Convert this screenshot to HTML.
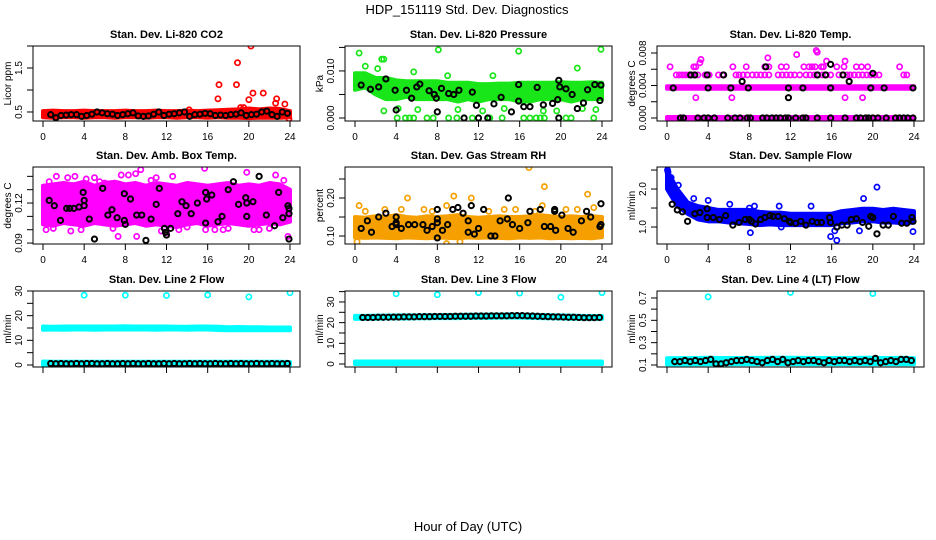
<!DOCTYPE html>
<html><head><meta charset="utf-8">
<style>
html,body{margin:0;padding:0;background:#fff;}
svg{display:block;font-family:"Liberation Sans",Arial,sans-serif;}
</style></head>
<body>
<svg id="fig" width="936" height="540" viewBox="0 0 936 540" xmlns="http://www.w3.org/2000/svg">
<text x="467" y="14" text-anchor="middle" font-size="13">HDP_151119  Std. Dev. Diagnostics</text>
<text x="468" y="531" text-anchor="middle" font-size="13">Hour of Day (UTC)</text>
</svg>
<script>
// ---------- data ----------
const HOURS=[0,1,2,3,4,5,6,7,8,9,10,11,12,13,14,15,16,17,18,19,20,21,22,23,24];
const HALF=[0.75,1.25,1.75,2.25,2.75,3.25,3.75,4.25,4.75,5.25,5.75,6.25,6.75,7.25,7.75,8.25,8.75,9.25,9.75,10.25,10.75,11.25,11.75,12.25,12.75,13.25,13.75,14.25,14.75,15.25,15.75,16.25,16.75,17.25,17.75,18.25,18.75,19.25,19.75,20.25,20.75,21.25,21.75,22.25,22.75,23.25,23.75];
const X_TICKS=[0,4,8,12,16,20,24];

// P1 CO2
const p1Lo=[0.38,0.37,0.38,0.38,0.37,0.38,0.38,0.37,0.38,0.38,0.37,0.38,0.38,0.37,0.38,0.38,0.37,0.38,0.37,0.37,0.36,0.37,0.37,0.37,0.38];
const p1Hi=[0.52,0.53,0.52,0.52,0.53,0.52,0.52,0.52,0.53,0.52,0.52,0.53,0.52,0.52,0.53,0.52,0.53,0.54,0.55,0.56,0.58,0.56,0.58,0.57,0.52];
const p1Px=[17.0,17.1,18.8,18.9,20.0,20.2,20.4,21.4,22.7,22.6,23.5,19.2,19.5,23.9,14.2];
const p1Py=[0.80,1.12,1.12,1.62,0.78,2.0,0.93,0.93,0.80,0.70,0.68,0.60,0.60,0.35,0.55];
const p1By=[0.44,0.37,0.42,0.43,0.44,0.44,0.40,0.42,0.45,0.50,0.48,0.46,0.45,0.42,0.44,0.46,0.48,0.41,0.40,0.41,0.45,0.50,0.42,0.45,0.46,0.48,0.50,0.40,0.44,0.45,0.47,0.46,0.42,0.43,0.42,0.44,0.45,0.48,0.42,0.44,0.45,0.50,0.52,0.44,0.40,0.50,0.47];

// P2 Pressure
const p2Lo=[0.006,0.0065,0.005,0.004,0.004,0.0045,0.004,0.004,0.004,0.004,0.0035,0.004,0.0035,0.004,0.004,0.004,0.0035,0.0035,0.004,0.004,0.004,0.0035,0.004,0.004,0.004];
const p2Hi=[0.0095,0.0095,0.0085,0.0085,0.008,0.0078,0.0078,0.0078,0.0078,0.0075,0.0075,0.0075,0.0072,0.0072,0.0073,0.0073,0.0075,0.0075,0.0075,0.0075,0.0076,0.0075,0.0075,0.0076,0.0075];
const p2Px=[0.4,1.0,2.2,2.6,2.8,5.7,8.1,15.9,21.6,23.9,13.4,9.0,4.1,4.9,5.3,5.7,7.0,7.6,9.1,9.9,10.6,11.4,12.0,12.9,13.1,14.3,16.4,17.0,17.6,18.0,18.4,19.8,20.5,21.0,23.2,2.8,4.2,6.1,10.0,12.4,14.5,18.3,19.6,22.1,23.4];
const p2Py=[0.0138,0.011,0.0105,0.0125,0.0125,0.0098,0.0145,0.0142,0.0106,0.0146,0.009,0.009,0,0,0,0,0,0,0,0,0,0,0,0,0,0,0,0,0,0,0,0,0,0,0,0.0015,0.002,0.0018,0.0018,0.0015,0.002,0.0015,0.0015,0.002,0.0018];
const p2Bx=[0.6,1.5,2.3,3.0,3.9,4.0,5.0,5.5,6.0,6.3,7.2,7.7,7.9,8.0,8.4,9.1,9.6,10.1,10.6,11.4,11.8,12.0,12.9,13.5,14.2,15.2,15.9,15.9,16.4,17.0,17.7,18.3,19.2,19.7,19.8,19.9,19.8,20.5,21.1,21.6,22.2,22.6,23.3,23.8,23.9];
const p2By=[0.0070,0.0061,0.0066,0.0083,0.0059,0.0017,0.0059,0.0042,0.0066,0.0072,0.0058,0.0050,0.0042,0.0013,0.0063,0.0052,0.0050,0.0059,0.0000,0.0055,0.0027,0.0000,0.0000,0.0030,0.0044,0.0013,0.0036,0.0071,0.0024,0.0024,0.0065,0.0028,0.0031,0.0039,0.0000,0.0066,0.0080,0.0062,0.0050,0.0020,0.0032,0.0060,0.0071,0.0037,0.0070];

// P3 Li-820 Temp
const p3ZeroLo=[-0.00012,-0.00012,-0.00012,-0.00012,-0.00012,-0.00012,-0.00012,-0.00012,-0.00012,-0.00012,-0.00012,-0.00012,-0.00012,-0.00012,-0.00012,-0.00012,-0.00012,-0.00012,-0.00012,-0.00012,-0.00012,-0.00012,-0.00012,-0.00012,-0.00012];
const p3ZeroHi=[0.00012,0.00012,0.00012,0.00012,0.00012,0.00012,0.00012,0.00012,0.00012,0.00012,0.00012,0.00012,0.00012,0.00012,0.00012,0.00012,0.00012,0.00012,0.00012,0.00012,0.00012,0.00012,0.00012,0.00012,0.00012];
const p3RowLo=[0.0036,0.0036,0.0036,0.0036,0.0036,0.0036,0.0036,0.0036,0.0036,0.0036,0.0036,0.0036,0.0036,0.0036,0.0036,0.0036,0.0036,0.0036,0.0036,0.0036,0.0036,0.0036,0.0036,0.0036,0.0036];
const p3RowHi=[0.0039,0.0039,0.0039,0.0039,0.0039,0.0039,0.0039,0.0039,0.0039,0.0039,0.0039,0.0039,0.0039,0.0039,0.0039,0.0039,0.0039,0.0039,0.0039,0.0039,0.0039,0.0039,0.0039,0.0039,0.0039];
const p3Px=[0.9,1.2,1.5,1.8,2.1,2.4,2.7,3.0,3.7,4.1,5.0,5.4,6.7,7.0,7.4,7.8,8.3,8.7,9.1,9.5,9.9,10.8,11.2,11.6,12.0,12.4,12.9,13.5,13.9,14.3,14.7,15.1,15.5,15.9,16.7,17.1,17.5,17.8,18.2,18.6,19.0,19.4,19.8,20.2,20.6,23.0,23.3,
 0.3,2.6,2.8,6.4,7.7,9.5,9.9,11.1,11.6,13.3,13.8,14.1,14.4,15.0,15.2,16.5,17.2,18.4,18.9,19.5,22.6,
 3.2,3.3,9.8,12.6,14.5,14.6,15.5,17.3,2.8,6.3,17.3,19.0];
const p3Py=[0.0053,0.0053,0.0053,0.0053,0.0053,0.0053,0.0053,0.0053,0.0053,0.0053,0.0053,0.0053,0.0053,0.0053,0.0053,0.0053,0.0053,0.0053,0.0053,0.0053,0.0053,0.0053,0.0053,0.0053,0.0053,0.0053,0.0053,0.0053,0.0053,0.0053,0.0053,0.0053,0.0053,0.0053,0.0053,0.0053,0.0053,0.0053,0.0053,0.0053,0.0053,0.0053,0.0053,0.0053,0.0053,0.0053,0.0053,
 0.0063,0.0063,0.0063,0.0063,0.0063,0.0063,0.0063,0.0063,0.0063,0.0063,0.0063,0.0063,0.0063,0.0063,0.0063,0.0063,0.0063,0.0063,0.0063,0.0063,0.0063,
 0.0068,0.0072,0.0074,0.0078,0.0083,0.0081,0.0070,0.0070,0.0025,0.0025,0.0025,0.0025];
const p3Bx=[0.6,2.3,2.7,3.9,4.0,5.5,6.2,7.3,7.9,9.6,11.8,11.8,13.2,14.6,15.4,15.9,15.9,17.1,17.7,19.8,20.0,21.1,23.9,1.3,1.6,3.0,3.6,4.0,4.6,5.9,6.6,7.1,7.8,8.1,9.3,9.7,10.2,10.6,11.0,11.5,11.8,12.5,13.2,13.5,14.6,15.9,17.3,18.4,18.8,19.3,19.6,20.0,20.5,21.3,22.2,22.6,23.0,23.4,23.9];
const p3By=[0.0037,0.0053,0.0053,0.0053,0.0037,0.0053,0.0037,0.0045,0.0037,0.0063,0.0025,0.0037,0.0037,0.0053,0.0053,0.0066,0.0037,0.0053,0.0045,0.0037,0.0055,0.0037,0.0037,0,0,0,0,0,0,0,0,0,0,0,0,0,0,0,0,0,0,0,0,0,0,0,0,0,0,0,0,0,0,0,0,0,0,0,0];

// P4 Amb Box Temp
const p4Lo=[0.104,0.103,0.105,0.104,0.103,0.105,0.104,0.103,0.104,0.105,0.103,0.104,0.103,0.102,0.104,0.105,0.103,0.104,0.105,0.104,0.103,0.104,0.105,0.104,0.106];
const p4Hi=[0.133,0.134,0.135,0.134,0.136,0.133,0.135,0.136,0.134,0.135,0.133,0.135,0.134,0.133,0.135,0.134,0.133,0.134,0.135,0.133,0.134,0.133,0.135,0.134,0.130];
const p4Px=[0.6,1.3,2.4,3.1,3.7,4.2,5.0,5.5,6.0,7.3,7.6,8.3,9.0,9.1,9.5,10.5,11.0,12.6,13.2,14.0,15.7,15.8,16.7,17.5,19.8,21.0,22.6,23.4,23.8,2.7,12.0,0.3,1.0,6.8,11.5,18.0,20.5,22.0];
const p4Py=[0.136,0.140,0.139,0.140,0.100,0.138,0.139,0.136,0.135,0.095,0.141,0.141,0.142,0.095,0.145,0.137,0.139,0.140,0.100,0.102,0.146,0.100,0.100,0.100,0.143,0.100,0.141,0.137,0.095,0.099,0.098,0.100,0.101,0.101,0.099,0.101,0.100,0.101];
const p4Bx=[0.6,1.1,1.7,2.3,2.6,3.0,3.5,3.9,4.0,4.0,4.5,5.0,5.8,6.3,6.7,7.2,7.9,7.9,8.0,8.5,9.1,9.6,10.0,10.5,11.0,11.3,11.8,11.9,12.0,12.4,13.1,13.5,13.9,14.4,15.0,15.8,15.8,15.9,16.4,17.0,17.4,18.0,18.5,19.0,19.7,19.8,19.8,20.4,21.0,21.7,22.5,22.9,23.3,23.8,23.9,23.9,23.9];
const p4By=[0.122,0.118,0.107,0.116,0.116,0.116,0.117,0.128,0.122,0.118,0.108,0.093,0.131,0.111,0.115,0.109,0.127,0.107,0.104,0.123,0.111,0.111,0.092,0.108,0.119,0.131,0.101,0.098,0.096,0.101,0.112,0.121,0.118,0.112,0.120,0.128,0.105,0.123,0.126,0.106,0.110,0.130,0.136,0.119,0.124,0.120,0.110,0.121,0.140,0.111,0.103,0.128,0.109,0.118,0.112,0.093,0.116];

// P5 Gas Stream RH
const p5Lo=[0.096,0.095,0.096,0.095,0.094,0.096,0.095,0.094,0.096,0.095,0.094,0.096,0.095,0.096,0.095,0.094,0.096,0.095,0.096,0.094,0.095,0.094,0.095,0.094,0.097];
const p5Hi=[0.150,0.148,0.152,0.150,0.155,0.150,0.148,0.152,0.150,0.152,0.155,0.150,0.148,0.150,0.152,0.150,0.150,0.152,0.155,0.152,0.150,0.152,0.150,0.152,0.150];
const p5Px=[0.4,0.2,2.9,4.5,5.1,6.7,8.9,9.6,11.3,14.5,15.6,16.9,18.4,18.2,20.5,21.6,22.6,8.9,10.2,1.0,7.5,13.0,17.5,23.2];
const p5Py=[0.18,0.085,0.17,0.17,0.20,0.17,0.18,0.205,0.20,0.17,0.17,0.28,0.23,0.18,0.17,0.17,0.21,0.08,0.085,0.165,0.165,0.165,0.165,0.175];
const p5Bx=[0.6,1.2,1.6,2.3,3.0,3.6,4.0,4.0,4.0,4.5,5.2,5.8,6.6,7.0,7.5,8.0,8.0,8.0,8.0,8.5,9.0,9.5,10.0,10.5,11.0,11.3,11.6,11.0,12.0,12.5,13.2,13.6,14.1,14.8,14.9,15.3,16.0,16.8,17.0,18.0,18.4,19.0,19.4,19.4,19.5,20.1,20.7,21.2,22.0,22.5,22.9,23.8,23.9,23.9];
const p5By=[0.12,0.14,0.11,0.15,0.16,0.125,0.15,0.135,0.13,0.12,0.13,0.13,0.13,0.115,0.125,0.135,0.145,0.17,0.095,0.115,0.13,0.17,0.175,0.16,0.14,0.18,0.105,0.11,0.12,0.17,0.10,0.10,0.14,0.145,0.20,0.13,0.12,0.135,0.165,0.17,0.125,0.125,0.17,0.165,0.115,0.155,0.12,0.11,0.14,0.165,0.15,0.125,0.185,0.13];

// P6 Sample Flow
const p6Lo=[2.0,1.55,1.35,1.2,1.15,1.15,1.12,1.1,1.08,1.05,1.07,1.05,1.05,1.05,1.05,1.05,1.05,1.1,1.12,1.15,1.15,1.12,1.12,1.1,1.12];
const p6Hi=[2.5,2.0,1.65,1.55,1.5,1.45,1.45,1.45,1.45,1.4,1.38,1.38,1.35,1.35,1.35,1.35,1.35,1.42,1.45,1.48,1.48,1.45,1.48,1.45,1.42];
const p6Px=[0.05,0.1,1.1,2.6,4.0,8.1,8.5,10.9,11.1,14.0,15.9,16.3,16.5,18.7,19.1,20.4,23.9,6.1,8.0,0.4,0.7];
const p6Py=[2.5,2.45,2.1,1.75,1.7,0.85,1.55,1.55,1.0,1.55,0.75,0.9,0.65,0.9,1.75,2.05,0.88,1.6,1.5,2.3,1.8];
const p6Bx=[0.5,1.0,1.5,2.0,2.7,3.2,3.9,3.9,4.5,5.1,5.7,6.4,7.0,7.6,8.0,8.2,8.6,9.1,9.5,10.0,10.3,10.8,11.4,11.9,12.0,12.5,13.0,13.5,14.1,14.6,15.0,15.8,15.9,16.5,17.0,17.5,17.9,18.4,19.0,19.6,19.8,20.0,20.4,21.0,21.5,22.0,22.8,23.3,23.8,23.9];
const p6By=[1.6,1.45,1.4,1.15,1.35,1.38,1.48,1.25,1.25,1.2,1.3,1.05,1.12,1.2,1.2,1.15,1.08,1.2,1.25,1.3,1.28,1.28,1.22,1.15,1.12,1.1,1.15,1.05,1.15,1.12,1.12,1.25,1.12,1.0,1.05,1.05,1.2,1.22,1.12,1.02,1.28,1.25,0.82,1.05,1.05,1.28,1.1,1.1,1.25,1.15];

// P7 Line 2 Flow
const p7HiLo=[14.3,14.4,14.3,14.4,14.4,14.3,14.4,14.4,14.4,14.4,14.4,14.3,14.4,14.4,14.3,14.4,14.4,14.2,14.1,14.1,14.1,14.1,14.1,14.1,14.1];
const p7HiHi=[15.6,15.5,15.6,15.6,15.6,15.6,15.6,15.6,15.7,15.6,15.6,15.6,15.6,15.5,15.5,15.6,15.6,15.5,15.3,15.4,15.3,15.3,15.2,15.2,15.2];
const p7LowLo=[0,0,0,0,0,0,0,0,0,0,0,0,0,0,0,0,0,0,0,0,0,0,0,0,0];
const p7LowHi=[1.4,1.3,1.3,1.3,1.3,1.3,1.3,1.3,1.3,1.3,1.3,1.3,1.3,1.3,1.3,1.3,1.3,1.3,1.3,1.3,1.3,1.3,1.3,1.3,1.2];
const p7Px=[4,8,12,16,20,24];
const p7Py=[28.3,28.3,28.2,28.4,27.6,29.3];
const p7By=[0.6,0.5,0.6,0.5,0.5,0.6,0.5,0.6,0.6,0.5,0.5,0.6,0.5,0.5,0.6,0.5,0.6,0.5,0.5,0.6,0.5,0.5,0.6,0.5,0.6,0.5,0.5,0.6,0.5,0.6,0.5,0.5,0.6,0.5,0.5,0.6,0.5,0.6,0.5,0.5,0.6,0.5,0.5,0.6,0.5,0.5,0.6];

// P8 Line 3 Flow
const p8HiLo=[21.8,21.9,21.9,22.0,22.0,22.0,22.1,22.1,22.2,22.2,22.2,22.3,22.3,22.3,22.4,22.4,22.4,22.3,22.2,22.1,22.0,21.9,21.9,21.8,21.8];
const p8HiHi=[23.3,23.3,23.4,23.4,23.5,23.5,23.5,23.6,23.6,23.7,23.7,23.8,23.8,23.9,23.9,24.0,23.9,23.8,23.7,23.6,23.5,23.4,23.3,23.2,23.2];
const p8LowLo=[0,0,0,0,0,0,0,0,0,0,0,0,0,0,0,0,0,0,0,0,0,0,0,0,0];
const p8LowHi=[1.2,1.2,1.2,1.2,1.2,1.2,1.2,1.2,1.2,1.2,1.2,1.2,1.2,1.2,1.2,1.2,1.2,1.2,1.2,1.2,1.2,1.2,1.2,1.2,1.2];
const p8Px=[4,8,12,16,20,24];
const p8Py=[34.0,33.5,34.5,34.3,32.3,34.5];
const p8By=[22.5,22.5,22.5,22.6,22.6,22.6,22.7,22.7,22.8,22.8,22.8,22.9,22.9,22.9,23.0,23.0,23.0,23.0,23.1,23.1,23.1,23.1,23.2,23.2,23.2,23.3,23.3,23.3,23.3,23.4,23.4,23.4,23.3,23.2,23.1,23.0,22.9,22.8,22.8,22.7,22.6,22.6,22.5,22.4,22.4,22.4,22.5];

// P9 Line 4 (LT) Flow
const p9Lo=[0.105,0.106,0.106,0.107,0.107,0.107,0.107,0.108,0.108,0.108,0.108,0.108,0.108,0.108,0.108,0.108,0.108,0.108,0.108,0.108,0.108,0.108,0.108,0.108,0.108];
const p9Hi=[0.160,0.162,0.162,0.163,0.165,0.163,0.163,0.163,0.163,0.164,0.165,0.165,0.165,0.164,0.163,0.163,0.163,0.163,0.163,0.165,0.165,0.163,0.163,0.165,0.160];
const p9Px=[4,12,20];
const p9Py=[0.71,0.75,0.74];
const p9By=[0.13,0.13,0.14,0.13,0.14,0.13,0.14,0.15,0.11,0.11,0.12,0.13,0.14,0.14,0.15,0.14,0.13,0.12,0.14,0.15,0.13,0.15,0.12,0.13,0.14,0.13,0.14,0.14,0.13,0.12,0.14,0.13,0.14,0.14,0.13,0.14,0.13,0.14,0.13,0.16,0.12,0.13,0.14,0.13,0.15,0.15,0.14];

// ---------- rendering ----------
const NS='http://www.w3.org/2000/svg';
const svg=document.getElementById('fig');
const COL_LEFT=[33,345,657];
const ROW_TOP=[46,167,291], ROW_BOT=[121,244,367];

function mk(tag,attrs,parent){const e=document.createElementNS(NS,tag);for(const k in attrs)e.setAttribute(k,attrs[k]);(parent||svg).appendChild(e);return e;}

function panel(cfg){
  const c=cfg.col,r=cfg.row;
  const L=COL_LEFT[c],R=L+267,T=ROW_TOP[r],B=ROW_BOT[r];
  const x0=L+10,x1=L+257;
  const sx=h=>x0+(h/24)*(x1-x0);
  const sy=v=>B-(v-cfg.ymin)/(cfg.ymax-cfg.ymin)*(B-T);
  const g=mk('g',{});
  
  
  const clipId='clip'+c+r;
  const cp=mk('clipPath',{id:clipId},g);mk('rect',{x:L,y:T,width:R-L,height:B-T},cp);
  const plot=mk('g',{'clip-path':'url(#'+clipId+')'},g);
  cfg.bands.forEach((bd,i)=>{
    let pts=[];
    HOURS.forEach((h,k)=>pts.push(sx(h)+','+sy(bd[1][k])));
    for(let k=HOURS.length-1;k>=0;k--)pts.push(sx(HOURS[k])+','+sy(bd[0][k]));
    const p=mk('polygon',{points:pts.join(' '),fill:cfg.color,stroke:cfg.color,'stroke-width':4,'stroke-linejoin':'round'},plot);
    
    
  });
  cfg.px.forEach((h,i)=>{
    const e=mk('circle',{cx:sx(h),cy:sy(cfg.py[i]),r:2.6,fill:'none',stroke:cfg.color,'stroke-width':1.7},plot);
    
    
  });
  cfg.bx.forEach((h,i)=>{
    const e=mk('circle',{cx:sx(h),cy:sy(cfg.by[i]),r:2.6,fill:'none',stroke:'#000','stroke-width':2},plot);
    
    
  });
  const box=mk('rect',{x:L,y:T,width:R-L,height:B-T,fill:'none',stroke:'#000','stroke-width':1},g);
  
  
  const t=mk('text',{x:(L+R)/2,y:T-8,'text-anchor':'middle','font-size':11,'font-weight':'bold'},g);
  t.textContent=cfg.title;
  
  
  X_TICKS.forEach(v=>{
    mk('line',{x1:sx(v),x2:sx(v),y1:B,y2:B+6,stroke:'#000'},g);
    if(r<2){const tl=mk('text',{x:sx(v),y:B+19,'text-anchor':'middle','font-size':10},g);tl.textContent=v;
      
      }
  });
  cfg.yticks.forEach(v=>{
    mk('line',{x1:L,x2:L-6,y1:sy(v),y2:sy(v),stroke:'#000'},g);
  });
  cfg.ylabels.forEach(s=>{
    const v=parseFloat(s);const y=sy(v);
    const tl=mk('text',{x:0,y:0,transform:'translate('+(L-11)+','+y+') rotate(-90)','text-anchor':'middle','font-size':10},g);
    tl.textContent=s;
    
    
  });
  const yl=mk('text',{x:0,y:0,transform:'translate('+(L-22)+','+((T+B)/2)+') rotate(-90)','text-anchor':'middle','font-size':10},g);
  yl.textContent=cfg.ylab;
  
  
}

panel({name:'co2',col:0,row:0,title:'Stan. Dev. Li-820 CO2',ylab:'Licor ppm',color:'#ff0000',ymin:0.295,ymax:2.0,yticks:[0.5,1.0,1.5,2.0],ylabels:['0.5','1.5'],bands:[[p1Lo,p1Hi]],px:p1Px,py:p1Py,bx:HALF,by:p1By});
panel({name:'pressure',col:1,row:0,title:'Stan. Dev. Li-820 Pressure',ylab:'kPa',color:'#19e619',ymin:-0.00064,ymax:0.0153,yticks:[0,0.005,0.010,0.015],ylabels:['0.000','0.010'],bands:[[p2Lo,p2Hi]],px:p2Px,py:p2Py,bx:p2Bx,by:p2By});
panel({name:'li820-temp',col:2,row:0,title:'Stan. Dev. Li-820 Temp.',ylab:'degrees C',color:'#ff00ff',ymin:-0.00037,ymax:0.00886,yticks:[0,0.002,0.004,0.006,0.008],ylabels:['0.000','0.004','0.008'],bands:[[p3ZeroLo,p3ZeroHi],[p3RowLo,p3RowHi]],px:p3Px,py:p3Py,bx:p3Bx,by:p3By});
panel({name:'amb-box-temp',col:0,row:1,title:'Stan. Dev. Amb. Box Temp.',ylab:'degrees C',color:'#ff00ff',ymin:0.0893,ymax:0.147,yticks:[0.09,0.10,0.11,0.12,0.13,0.14],ylabels:['0.09','0.12'],bands:[[p4Lo,p4Hi]],px:p4Px,py:p4Py,bx:p4Bx,by:p4By});
panel({name:'gas-stream-rh',col:1,row:1,title:'Stan. Dev. Gas Stream RH',ylab:'percent',color:'#f5a000',ymin:0.079,ymax:0.2816,yticks:[0.10,0.15,0.20,0.25],ylabels:['0.10','0.20'],bands:[[p5Lo,p5Hi]],px:p5Px,py:p5Py,bx:p5Bx,by:p5By});
panel({name:'sample-flow',col:2,row:1,title:'Stan. Dev. Sample Flow',ylab:'ml/min',color:'#0000ff',ymin:0.553,ymax:2.58,yticks:[1.0,1.5,2.0,2.5],ylabels:['1.0','2.0'],bands:[[p6Lo,p6Hi]],px:p6Px,py:p6Py,bx:p6Bx,by:p6By});
panel({name:'line2-flow',col:0,row:2,title:'Stan. Dev. Line 2 Flow',ylab:'ml/min',color:'#00ffff',ymin:-0.81,ymax:30,yticks:[0,5,10,15,20,25,30],ylabels:['0','10','20','30'],bands:[[p7HiLo,p7HiHi],[p7LowLo,p7LowHi]],px:p7Px,py:p7Py,bx:HALF,by:p7By});
panel({name:'line3-flow',col:1,row:2,title:'Stan. Dev. Line 3 Flow',ylab:'ml/min',color:'#00ffff',ymin:-1.45,ymax:35.3,yticks:[0,5,10,15,20,25,30,35],ylabels:['0','10','20','30'],bands:[[p8HiLo,p8HiHi],[p8LowLo,p8LowHi]],px:p8Px,py:p8Py,bx:HALF,by:p8By});
panel({name:'line4-flow',col:2,row:2,title:'Stan. Dev. Line 4 (LT) Flow',ylab:'ml/min',color:'#00ffff',ymin:0.082,ymax:0.7625,yticks:[0.1,0.2,0.3,0.4,0.5,0.6,0.7],ylabels:['0.1','0.3','0.5','0.7'],bands:[[p9Lo,p9Hi]],px:p9Px,py:p9Py,bx:HALF,by:p9By});
</script>
</body></html>
